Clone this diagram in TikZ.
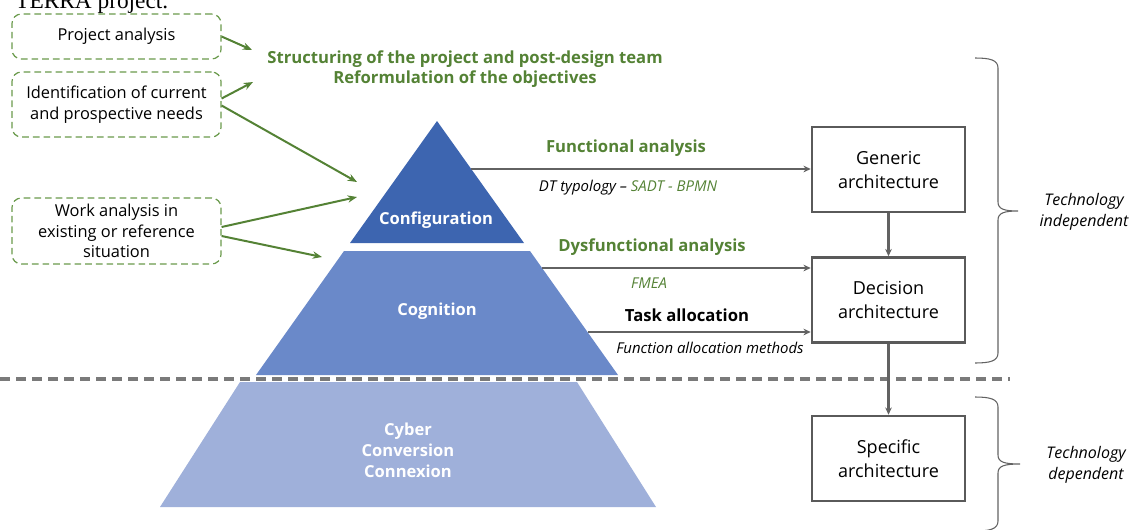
\documentclass[tikz,border=0pt]{standalone}
\usepackage{fontspec}
\setmainfont{Open Sans}
\newfontfamily\capfont{Liberation Serif}
\usetikzlibrary{arrows.meta,calc}
\definecolor{grn}{HTML}{548235}
\definecolor{dgrn}{HTML}{6A9A4C}
\definecolor{lgray}{HTML}{5A5A5A}
\definecolor{agray}{HTML}{626262}
\definecolor{sgray}{HTML}{7A7A7A}
\definecolor{cA}{HTML}{3D65B0}
\definecolor{cB}{HTML}{6A89C9}
\definecolor{cC}{HTML}{9FB0DA}
\tikzset{
  dbox/.style={draw=dgrn, dashed, dash pattern=on 5pt off 3pt, line width=0.9pt, rounded corners=7pt, align=center, font=\fontsize{12.3}{15.5}\selectfont, inner sep=0pt},
  abox/.style={draw=lgray, line width=1.9pt, minimum width=114.75pt, minimum height=63.75pt, align=center, font=\fontsize{13.5}{18}\selectfont, inner sep=0pt},
  garr/.style={draw=grn, line width=1.5pt, -{Stealth[length=7pt,width=5.5pt]}},
  parr/.style={draw=agray, line width=1.6pt, -{Stealth[length=5.5pt,width=5pt]}},
  gtitle/.style={text=grn, font=\bfseries\fontsize{12.5}{15}\selectfont, align=center, inner sep=0pt},
  btitle/.style={text=black, font=\bfseries\fontsize{12.5}{15}\selectfont, inner sep=0pt},
  itext/.style={font=\itshape\fontsize{11.2}{13}\selectfont, inner sep=0pt},
  ptext/.style={text=white, font=\bfseries\fontsize{12.4}{15.75}\selectfont, align=center, inner sep=0pt},
  ttext/.style={font=\itshape\fontsize{12}{15.75}\selectfont, align=center, inner sep=0pt},
  brace/.style={draw=agray, line width=0.8pt},
  sep/.style={draw=sgray, line width=2.4pt, dash pattern=on 7.5pt off 4.5pt}
}
\begin{document}
\begin{tikzpicture}[x=0.75pt,y=-0.75pt]
\useasboundingbox (0,0) rectangle (1134,529);
% caption fragment (cut off at the top, as in the reference)
\node[anchor=base west, inner sep=0pt, font=\capfont\fontsize{17.5}{20}\selectfont] (cap) at (15,8) {TERRA project.};

% pyramid
\fill[cA] (437,121) -- (524,243) -- (350,243) -- cycle;
\fill[cB] (344,251) -- (530,251) -- (618,375) -- (256,375) -- cycle;
\fill[cC] (240,382) -- (577,382) -- (656,507) -- (160,507) -- cycle;
\node[ptext] (conf) at (436,220) {Configuration};
\node[ptext] (cogn) at (437,311) {Cognition};
\node[ptext] (cyb) at (408,450) {Cyber\\Conversion\\Connexion};

% separator
\draw[sep] (0,379) -- (1010,379);

% dashed input boxes
\node[dbox, minimum width=156.75pt, minimum height=33.75pt] (pa) at (116.5,36.5) {Project analysis};
\node[dbox, minimum width=156.75pt, minimum height=48.75pt] (ip) at (116.5,104.5) {Identification of current\\and prospective needs};
\node[dbox, minimum width=156.75pt, minimum height=49.5pt] (wa) at (116.5,231) {Work analysis in\\existing or reference\\situation};

\coordinate (t1) at (252,50);
\coordinate (t2) at (253,82);
\coordinate (t3) at (357,182);
\coordinate (t4) at (357,197);
\coordinate (t5) at (322,257);
\draw[garr] (pa.east) -- (t1);
\draw[garr] ($(ip.east)+(0,-6)$) -- (t2);
\draw[garr] ($(ip.east)+(0,1)$) -- (t3);
\draw[garr] ($(wa.east)+(0,-4)$) -- (t4);
\draw[garr] ($(wa.east)+(0,5)$) -- (t5);

\node[gtitle] (struct) at (465,69) {Structuring of the project and post-design team\\Reformulation of the objectives};

% architecture boxes
\node[abox] (gen) at (888.5,169.5) {Generic\\architecture};
\node[abox] (dec) at (888.5,300) {Decision\\architecture};
\node[abox] (spe) at (888.5,458.5) {Specific\\architecture};
\draw[parr] (gen) -- (dec);
\draw[parr] (dec) -- (spe);

% horizontal arrows
\coordinate (f0) at (471,169);
\coordinate (d0) at (542,268);
\coordinate (k0) at (588,332);
\draw[parr] (f0) -- (f0 -| gen.west);
\draw[parr] (d0) -- (d0 -| dec.west);
\draw[parr] (k0) -- (k0 -| dec.west);

\node[gtitle] (fa) at (626,148) {Functional analysis};
\node[itext] (dt) at (628,188) {DT typology – \textcolor{grn}{SADT - BPMN}};
\node[gtitle] (dfa) at (652,247) {Dysfunctional analysis};
\node[itext, text=grn] (fmea) at (649,283) {FMEA};
\node[btitle] (ta) at (687,315) {Task allocation};
\node[itext] (fam) at (710,348) {Function allocation methods};

% braces
\draw[brace] (975,58) .. controls (990,58) and (998,60) .. (998,68) -- (998,202) .. controls (998,209) and (1004,211) .. (1018,211)
  .. controls (1004,211) and (998,213) .. (998,220) -- (998,353) .. controls (998,361) and (990,363) .. (975,363);
\draw[brace] (975,397) .. controls (990,397) and (998,399) .. (998,407) -- (998,455) .. controls (998,462) and (1004,464) .. (1020,464)
  .. controls (1004,464) and (998,466) .. (998,473) -- (998,521) .. controls (998,529) and (990,531) .. (975,531);

\node[ttext] (ti) at (1084,211.5) {Technology\\independent};
\node[ttext] (td) at (1086,464.5) {Technology\\dependent};
\end{tikzpicture}
\end{document}
